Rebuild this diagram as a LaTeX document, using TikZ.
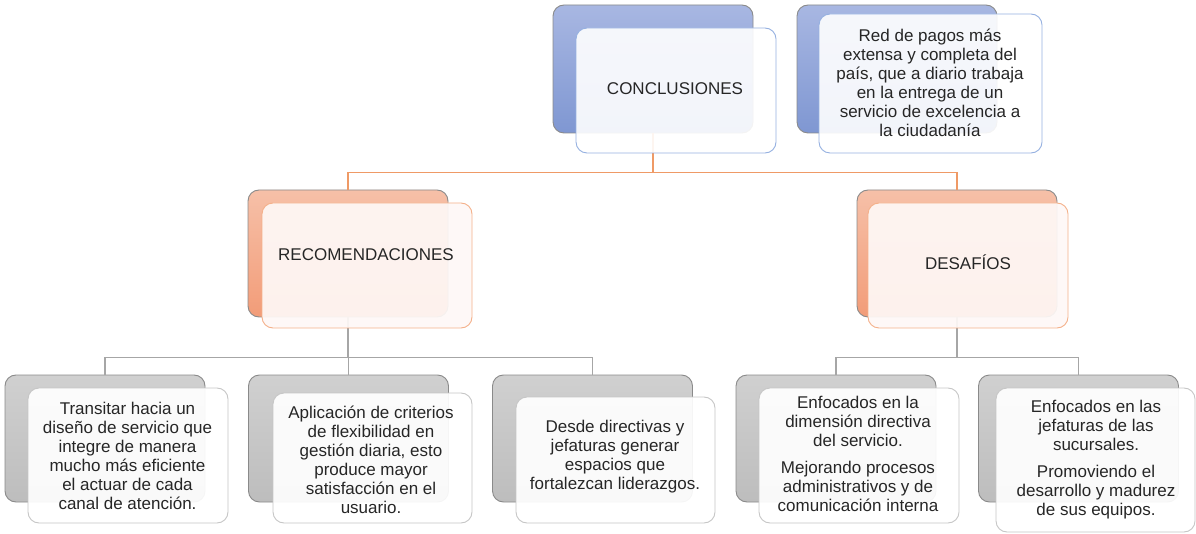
\documentclass[tikz,border=0pt]{standalone}
\usepackage{fontspec}
\setmainfont{Liberation Sans}
\definecolor{txt}{HTML}{262626}
\definecolor{bluetop}{HTML}{A8B7E2}
\definecolor{bluebot}{HTML}{7F97D2}
\definecolor{blueline}{HTML}{95B0E0}
\definecolor{orgtop}{HTML}{F6C0A8}
\definecolor{orgbot}{HTML}{F29C78}
\definecolor{orgline}{HTML}{F4B08A}
\definecolor{orgfill}{HTML}{FEF8F6}
\definecolor{graytop}{HTML}{D0D0D0}
\definecolor{graybot}{HTML}{BDBDBD}
\definecolor{grayline}{HTML}{C6C6C6}
\definecolor{conno}{HTML}{EF9A66}
\definecolor{conng}{HTML}{A6A6A6}
\definecolor{backline}{HTML}{8A8A8A}
\tikzset{
  box/.style={rounded corners=11pt, inner sep=0pt, line width=0.9pt},
  bblue/.style={box, draw=backline, top color=bluetop, bottom color=bluebot},
  fblue/.style={box, draw=blueline, fill=white, fill opacity=0.9, draw opacity=1},
  borg/.style={box, draw=backline, top color=orgtop, bottom color=orgbot},
  forg/.style={box, draw=orgline, fill=orgfill, fill opacity=0.93, draw opacity=1},
  bgray/.style={box, draw=backline, top color=graytop, bottom color=graybot},
  fgray/.style={box, draw=grayline, fill=white, fill opacity=0.92, draw opacity=1},
  lab/.style={inner sep=0pt, align=center, text=txt, font=\fontsize{17}{19}\selectfont},
  oline/.style={draw=conno, line width=1.4pt},
  gline/.style={draw=conng, line width=1.4pt},
}
\begin{document}
\begin{tikzpicture}[x=1pt,y=-1pt]
\useasboundingbox (0,0) rectangle (1196,534);
% back boxes
\node[bblue, minimum width=200pt, minimum height=128pt] (cb) at (653,69) {};
\node[bblue, minimum width=200pt, minimum height=128pt] (pb) at (897,69) {};
\node[borg, minimum width=200pt, minimum height=127pt] (rb) at (348,253.5) {};
\node[borg, minimum width=200pt, minimum height=127pt] (db) at (957,253.5) {};
\node[bgray, minimum width=200pt, minimum height=127pt] (g1) at (105,438.5) {};
\node[bgray, minimum width=200pt, minimum height=127pt] (g2) at (348.5,438.5) {};
\node[bgray, minimum width=200pt, minimum height=127pt] (g3) at (592.5,438.5) {};
\node[bgray, minimum width=200pt, minimum height=127pt] (g4) at (836,438.5) {};
\node[bgray, minimum width=200pt, minimum height=127pt] (g5) at (1078.5,438.5) {};
% connectors
\draw[oline] (cb.south) -- ++(0,39) -| (rb.north);
\draw[oline] (cb.south) -- ++(0,39) -| (db.north);
\draw[gline] (rb.south) -- ++(0,40) -| (g1.north);
\draw[gline] (rb.south) -- ++(0,40) -| (g2.north);
\draw[gline] (rb.south) -- ++(0,40) -| (g3.north);
\draw[gline] (db.south) -- ++(0,40) -| (g4.north);
\draw[gline] (db.south) -- ++(0,40) -| (g5.north);
% front boxes
\node[fblue, minimum width=200pt, minimum height=125pt] (cf) at (676,90.5) {};
\node[fblue, minimum width=223pt, minimum height=139pt] (pf) at (930.5,83.5) {};
\node[forg, minimum width=210pt, minimum height=125pt] (rf) at (367,265.5) {};
\node[forg, minimum width=200pt, minimum height=125pt] (df) at (968,265.5) {};
\node[fgray, minimum width=200pt, minimum height=135pt] (f1) at (128,455.5) {};
\node[fgray, minimum width=199pt, minimum height=130pt] (f2) at (372.5,458) {};
\node[fgray, minimum width=199pt, minimum height=126pt] (f3) at (615.5,460) {};
\node[fgray, minimum width=200pt, minimum height=135pt] (f4) at (859,455.5) {};
\node[fgray, minimum width=199pt, minimum height=144pt] (f5) at (1095.5,460) {};
% labels
\node[lab] (tc) at (675,89) {CONCLUSIONES};
\node[lab] (tp) at (930,83) {Red de pagos más\\extensa y completa del\\país, que a diario trabaja\\en la entrega de un\\servicio de excelencia a\\la ciudadanía};
\node[lab] (tr) at (366,255) {RECOMENDACIONES};
\node[lab] (td) at (968,262) {DESAFÍOS};
\node[lab] (t1) at (127.5,455.5) {Transitar hacia un\\diseño de servicio que\\integre de manera\\mucho más eficiente\\el actuar de cada\\canal de atención.};
\node[lab] (t2) at (371,460) {Aplicación de criterios\\de flexibilidad en\\gestión diaria, esto\\produce mayor\\satisfacción en el\\usuario.};
\node[lab] (t3) at (615,457) {Desde directivas y\\jefaturas generar\\espacios que\\fortalezcan liderazgos.};
\node[lab] (t4) at (858,454) {Enfocados en la\\dimensión directiva\\del servicio.\\[8pt]Mejorando procesos\\administrativos y de\\comunicación interna};
\node[lab] (t5) at (1096,459.5) {Enfocados en las\\jefaturas de las\\sucursales.\\[8pt]Promoviendo el\\desarrollo y madurez\\de sus equipos.};
\end{tikzpicture}
\end{document}
